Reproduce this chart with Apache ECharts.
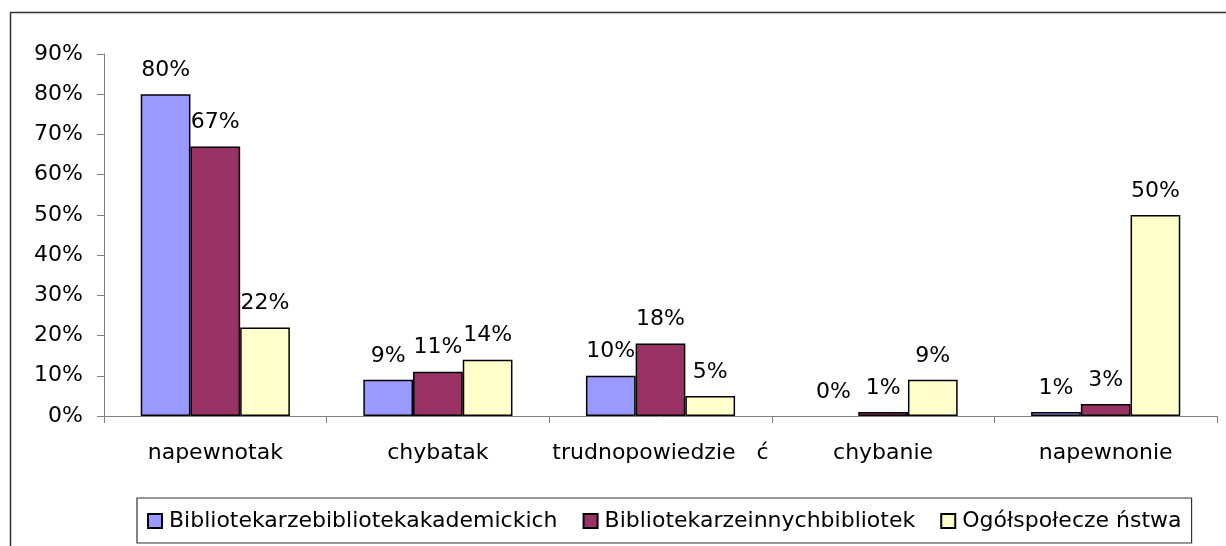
<!DOCTYPE html>
<html>
<head>
<meta charset="utf-8">
<script src="https://cdn.jsdelivr.net/npm/echarts@6/dist/echarts.min.js"></script>
<style>html,body{margin:0;padding:0;background:#fff;}#c{width:1226px;height:546px;}</style>
</head>
<body>
<div id="c"></div>
<script>
const categories = ["napewnotak", "chybatak", "trudnopowiedzie   ć", "chybanie", "napewnonie"];
const seriesNames = ["Bibliotekarzebibliotekakademickich", "Bibliotekarzeinnychbibliotek", "Ogółspołecze ństwa"];
const akademickie = [80, 9, 10, 0, 1];
const inne = [67, 11, 18, 1, 3];
const spoleczenstwo = [22, 14, 5, 9, 50];
const colors = ["#9999FF", "#993366", "#FFFFCC"];

const FONT = "DejaVu Sans";
const FS = 22;

const chart = echarts.init(document.getElementById('c'), null, {renderer: 'canvas'});
const values = [akademickie, inne, spoleczenstwo];
chart.setOption({
  animation: false,
  backgroundColor: '#fff',
  textStyle: {fontFamily: FONT},
  graphic: [{
    type: 'rect', silent: true, z: -1,
    shape: {x: 10.5, y: 12.5, width: 1240, height: 560},
    style: {fill: 'none', stroke: '#333', lineWidth: 1.5}
  }],
  grid: {left: 104, right: 9, top: 54, bottom: 130, containLabel: false},
  legend: {
    left: 137, top: 498,
    padding: [12, 10, 11, 10],
    borderColor: '#333', borderWidth: 1.2,
    itemWidth: 14, itemHeight: 14, itemGap: 25,
    icon: 'rect',
    textStyle: {fontFamily: FONT, fontSize: FS, color: '#000', padding: [0, 0, 0, 2]},
    data: seriesNames
  },
  xAxis: {
    type: 'category',
    data: categories,
    axisLine: {lineStyle: {color: '#808080', width: 1}},
    axisTick: {show: true, length: 7, alignWithLabel: false, lineStyle: {color: '#808080'}},
    axisLabel: {interval: 0, fontFamily: FONT, fontSize: FS, color: '#000', margin: 26},
    splitLine: {show: false}
  },
  yAxis: {
    type: 'value',
    min: 0, max: 90, interval: 10,
    axisLine: {show: true, lineStyle: {color: '#808080', width: 1}},
    axisTick: {show: true, length: 7, lineStyle: {color: '#808080'}},
    axisLabel: {fontFamily: FONT, fontSize: FS, color: '#000', margin: 21, formatter: '{value}%'},
    splitLine: {show: false}
  },
  series: seriesNames.map((n, i) => ({
    name: n,
    type: 'bar',
    data: values[i].map(v => v === 0 ? {value: v, itemStyle: {borderWidth: 0}} : v),
    barGap: '0%',
    barCategoryGap: '33%',
    itemStyle: {color: colors[i], borderColor: '#000', borderWidth: 1.5},
    label: {
      show: true, position: 'top', distance: 13,
      fontFamily: FONT, fontSize: FS, color: '#000',
      formatter: '{c}%'
    }
  }))
});
</script>
</body>
</html>
